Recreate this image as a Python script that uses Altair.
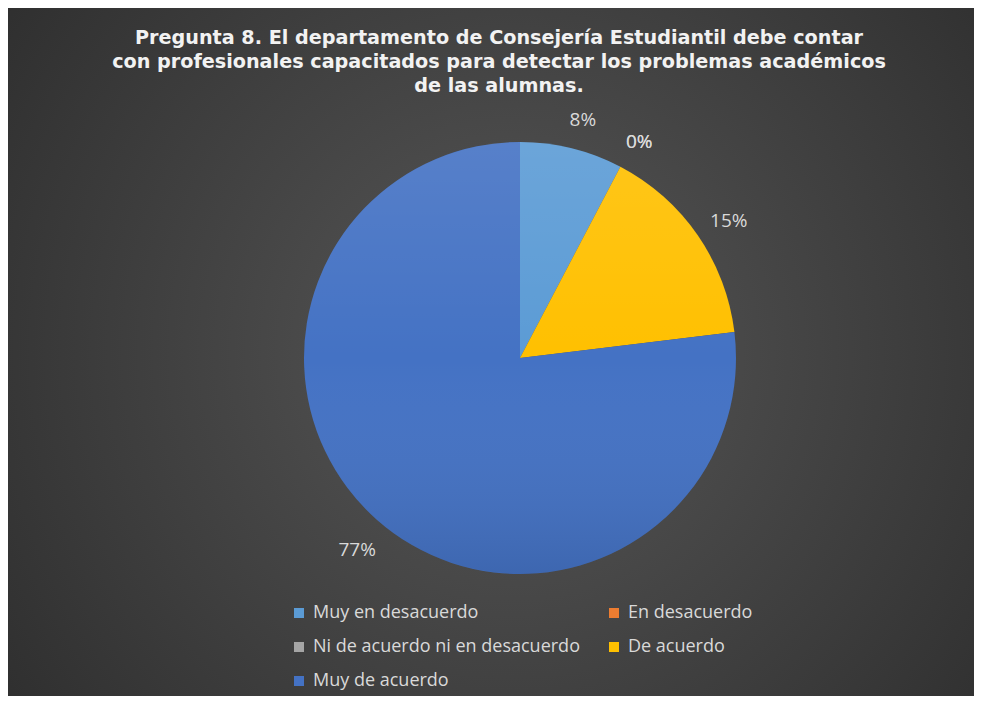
import altair as alt
import pandas as pd

categorias = ["Muy en desacuerdo", "En desacuerdo", "Ni de acuerdo ni en desacuerdo",
              "De acuerdo", "Muy de acuerdo"]
respuestas = [1, 0, 0, 2, 10]
colores = ["#5B9BD5", "#ED7D31", "#A5A5A5", "#FFC000", "#4472C4"]
titulo = ["Pregunta 8. El departamento de Consejería Estudiantil debe contar",
          "con profesionales capacitados para detectar los problemas académicos",
          "de las alumnas."]

W, H = 966, 688
CX, CY = 512, 350
R = 216

df = pd.DataFrame({"categoria": categorias, "respuestas": respuestas,
                   "orden": list(range(len(categorias)))})
one = pd.DataFrame({"a": [0]})

bg = alt.Chart(one).mark_rect(
    fill=alt.Gradient(
        gradient="radial", x1=0.52, y1=0.5, r1=0, x2=0.52, y2=0.5, r2=0.72,
        stops=[alt.GradientStop(offset=0, color="#575757"),
               alt.GradientStop(offset=1, color="#2a2a2a")]),
    strokeWidth=0,
).encode(x=alt.value(0), x2=alt.value(W), y=alt.value(0), y2=alt.value(H))

title = alt.Chart(one).mark_text(
    text=titulo, lineHeight=24, fontSize=19.2, fontWeight="bold", font="DejaVu Sans",
    color="#F2F2F2", align="center", baseline="middle",
).encode(x=alt.value(491), y=alt.value(30))

base = alt.Chart(df).transform_joinaggregate(
    total="sum(respuestas)"
).transform_calculate(pct="datum.respuestas / datum.total")

pie = base.mark_arc(outerRadius=R).encode(
    theta=alt.Theta("respuestas:Q", stack=True),
    color=alt.Color("categoria:N", scale=alt.Scale(domain=categorias, range=colores),
                    legend=alt.Legend(orient="none", legendX=282, legendY=596, columns=2,
                                      direction="horizontal",
                                      columnPadding=25, rowPadding=16, title=None,
                                      symbolType="square", symbolSize=100,
                                      symbolStrokeWidth=0, labelFontSize=18,
                                      labelFont="Open Sans", labelColor="#D9D9D9",
                                      labelLimit=400, labelOffset=5)),
    order=alt.Order("orden:Q"),
    x=alt.value(CX), y=alt.value(CY),
)

shade = alt.Chart(one).mark_arc(
    theta=0, theta2=6.2832, outerRadius=R,
    fill=alt.Gradient(
        gradient="linear", x1=0, y1=0, x2=0, y2=1,
        stops=[alt.GradientStop(offset=0, color="rgba(255,255,255,0.10)"),
               alt.GradientStop(offset=0.5, color="rgba(255,255,255,0)"),
               alt.GradientStop(offset=1, color="rgba(0,0,0,0.10)")]),
).encode(x=alt.value(CX), y=alt.value(CY))

labels = base.mark_text(radius=250, dx=3, dy=5, fontSize=19, font="Open Sans",
                        color="#D9D9D9").encode(
    theta=alt.Theta("respuestas:Q", stack=True),
    order=alt.Order("orden:Q"),
    text=alt.Text("pct:Q", format=".0%"),
    x=alt.value(CX), y=alt.value(CY),
)

chart = alt.layer(bg, title, pie, shade, labels).properties(
    width=W, height=H, padding=0, background="#2e2e2e"
).configure_view(stroke=None)

chart.save("out.html", embed_options={"renderer": "svg", "actions": False})
